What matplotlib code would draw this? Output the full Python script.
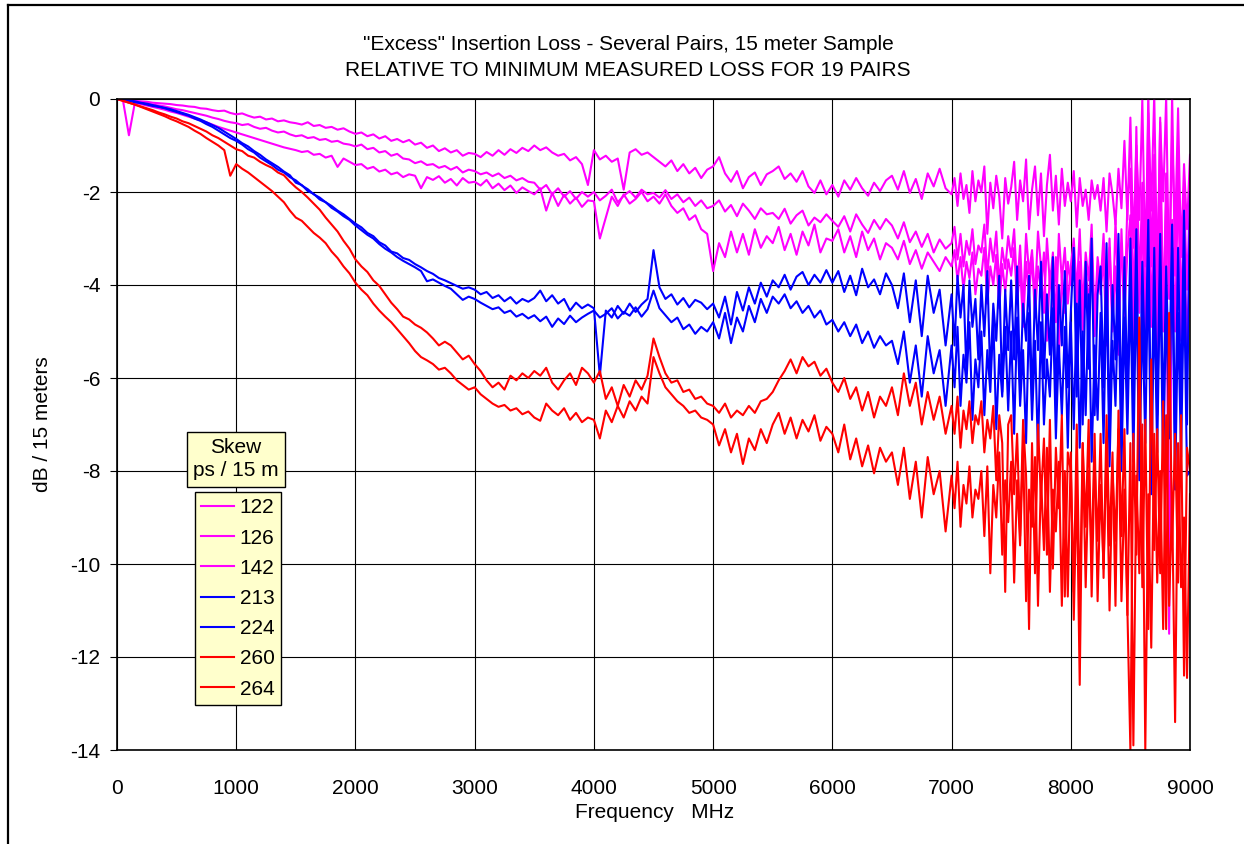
import matplotlib
matplotlib.use('Agg')
import matplotlib.pyplot as plt
import numpy as np
from matplotlib.lines import Line2D

plt.rcParams['font.family'] = ['Liberation Sans', 'DejaVu Sans']
plt.rcParams['axes.unicode_minus'] = False

# frequency points (MHz): 50 MHz steps below 7 GHz, 25 MHz steps above
freq = np.concatenate([np.arange(0, 7000, 50), np.arange(7000, 9001, 25)])

skew_labels = ['122', '126', '142', '213', '224', '260', '264']
skew_colors = ['#FF00FF', '#FF00FF', '#FF00FF', '#0000FF', '#0000FF', '#FF0000', '#FF0000']

# excess loss, dB / 15 m
loss_122 = [
    0.00, -0.01, -0.03, -0.04, -0.05, -0.06, -0.08, -0.09, -0.10, -0.11,
    -0.13, -0.14, -0.16, -0.17, -0.20, -0.21, -0.24, -0.26, -0.25, -0.30,
    -0.33, -0.31, -0.36, -0.40, -0.38, -0.44, -0.42, -0.48, -0.46, -0.50,
    -0.52, -0.55, -0.50, -0.58, -0.56, -0.62, -0.60, -0.66, -0.63, -0.70,
    -0.75, -0.72, -0.80, -0.76, -0.85, -0.80, -0.90, -0.86, -0.93, -0.88,
    -0.98, -0.94, -1.05, -1.00, -1.12, -1.06, -1.15, -1.10, -1.22, -1.16,
    -1.18, -1.25, -1.14, -1.22, -1.10, -1.20, -1.08, -1.16, -1.05, -1.12,
    -1.00, -1.10, -1.04, -1.15, -1.22, -1.18, -1.32, -1.25, -1.40, -1.85,
    -1.10, -1.30, -1.22, -1.35, -1.28, -1.95, -1.15, -1.08, -1.20, -1.15,
    -1.25, -1.35, -1.45, -1.32, -1.55, -1.40, -1.60, -1.48, -1.70, -1.52,
    -1.45, -1.25, -1.60, -1.78, -1.55, -1.92, -1.68, -1.58, -1.85, -1.62,
    -1.55, -1.45, -1.72, -1.60, -1.78, -1.55, -1.88, -2.02, -1.75, -2.05,
    -1.85, -2.10, -1.75, -1.95, -1.70, -1.92, -2.08, -1.80, -1.98, -1.75,
    -1.65, -1.95, -1.55, -2.02, -1.72, -2.15, -1.60, -1.88, -1.50, -1.92,
    # 7000 - 9000 MHz
    -2.05, -1.70, -2.30, -1.60, -2.15, -1.85, -2.45, -1.55, -2.20, -1.75,
    -2.00, -1.45, -2.90, -1.80, -2.35, -1.65, -2.10, -3.00, -1.70, -2.25,
    -1.90, -1.35, -2.60, -1.75, -2.20, -1.30, -2.80, -1.95, -1.45, -2.50,
    -1.60, -2.95, -1.85, -1.20, -2.40, -1.65, -2.70, -1.50, -2.30, -1.80,
    -2.20, -1.55, -2.75, -1.70, -2.30, -1.95, -2.60, -1.75, -2.15, -1.85,
    -2.40, -1.70, -2.85, -1.60, -2.05, -2.70, -1.50, -2.35, -0.90, -2.60,
    -0.40, -3.20, -1.00, -2.60, 0.00, -3.60, -0.30, -2.40, 0.10, -3.90,
    -0.50, -2.20, 0.05, -4.00, -0.80, -2.90, -0.20, -3.40, -1.40, -2.80,
    -1.20]

loss_126 = [
    0.00, -0.02, -0.04, -0.06, -0.08, -0.10, -0.12, -0.14, -0.16, -0.19,
    -0.22, -0.24, -0.27, -0.30, -0.33, -0.36, -0.40, -0.43, -0.47, -0.50,
    -0.52, -0.56, -0.54, -0.60, -0.64, -0.62, -0.68, -0.72, -0.70, -0.76,
    -0.80, -0.78, -0.84, -0.82, -0.88, -0.86, -0.92, -0.90, -0.96, -0.98,
    -1.02, -0.98, -1.08, -1.05, -1.15, -1.12, -1.22, -1.18, -1.28, -1.30,
    -1.38, -1.34, -1.42, -1.40, -1.48, -1.44, -1.52, -1.46, -1.58, -1.52,
    -1.55, -1.62, -1.58, -1.66, -1.60, -1.70, -1.65, -1.75, -1.70, -1.78,
    -1.80, -1.95, -1.85, -2.05, -1.92, -2.10, -1.98, -2.15, -2.00, -2.10,
    -2.00, -2.18, -2.08, -1.95, -2.22, -2.08, -1.98, -2.12, -1.95, -2.05,
    -2.02, -2.12, -1.96, -2.15, -2.05, -2.22, -2.12, -2.30, -2.18, -2.35,
    -2.30, -2.18, -2.42, -2.28, -2.52, -2.25, -2.40, -2.58, -2.35, -2.48,
    -2.45, -2.58, -2.36, -2.68, -2.50, -2.40, -2.72, -2.55, -2.65, -2.48,
    -2.62, -2.75, -2.52, -2.85, -2.48, -2.70, -2.88, -2.60, -2.80, -2.58,
    -2.72, -3.00, -2.65, -3.08, -2.85, -3.18, -2.90, -3.30, -3.02, -3.22,
    # 7000 - 9000 MHz
    -3.10, -2.75, -3.45, -2.90, -3.60, -3.05, -3.35, -2.80, -3.55, -3.15,
    -3.30, -2.70, -3.80, -3.00, -3.50, -2.85, -4.00, -3.20, -3.65, -2.95,
    -3.40, -2.80, -4.10, -3.15, -4.50, -2.90, -3.75, -3.25, -4.30, -2.85,
    -3.60, -4.60, -3.00, -4.00, -3.30, -4.80, -2.90, -3.90, -3.20, -4.40,
    -3.60, -3.00, -4.20, -2.80, -4.50, -3.30, -3.90, -2.70, -4.80, -3.40,
    -4.00, -2.90, -4.60, -3.20, -5.00, -2.60, -4.30, -3.10, -4.70, -2.20,
    -1.50, -4.80, -0.60, -4.20, -1.80, -5.40, 0.20, -3.60, -1.20, -4.40,
    -0.40, -5.00, -1.60, -4.30, 0.10, -3.80, -1.00, -5.20, -2.00, -4.10,
    -2.00]

loss_142 = [
    0.00, -0.03, -0.78, -0.08, -0.11, -0.14, -0.17, -0.20, -0.23, -0.27,
    -0.30, -0.34, -0.38, -0.42, -0.46, -0.50, -0.55, -0.60, -0.64, -0.68,
    -0.72, -0.76, -0.80, -0.84, -0.88, -0.92, -0.96, -1.00, -1.04, -1.07,
    -1.10, -1.14, -1.12, -1.20, -1.18, -1.26, -1.22, -1.46, -1.28, -1.35,
    -1.42, -1.40, -1.50, -1.46, -1.56, -1.52, -1.62, -1.58, -1.68, -1.62,
    -1.65, -1.92, -1.68, -1.74, -1.66, -1.80, -1.72, -1.86, -1.70, -1.80,
    -1.78, -1.86, -1.74, -1.92, -1.82, -1.96, -1.86, -2.02, -1.90, -1.98,
    -2.05, -1.92, -2.40, -2.02, -2.30, -2.06, -2.25, -2.12, -2.32, -2.18,
    -2.20, -3.00, -2.55, -2.10, -2.30, -2.05, -2.25, -2.15, -2.00, -2.20,
    -2.10, -2.25, -2.05, -2.30, -2.45, -2.35, -2.60, -2.50, -2.80, -2.90,
    -3.70, -3.10, -3.40, -2.85, -3.30, -2.90, -3.35, -2.80, -3.20, -2.95,
    -3.10, -2.75, -3.25, -2.90, -3.35, -2.85, -3.15, -2.70, -3.30, -3.00,
    -3.05, -2.80, -3.30, -2.95, -3.40, -2.85, -3.25, -3.00, -3.45, -3.10,
    -3.20, -3.45, -3.05, -3.55, -3.25, -3.65, -3.30, -3.50, -3.70, -3.40,
    # 7000 - 9000 MHz
    -3.60, -3.25, -3.90, -3.40, -4.10, -3.50, -3.85, -3.30, -4.20, -3.65,
    -3.80, -3.20, -4.40, -3.60, -4.00, -3.35, -4.50, -3.55, -4.15, -3.45,
    -3.80, -3.20, -4.40, -3.60, -4.90, -3.50, -4.20, -3.40, -4.70, -3.60,
    -4.10, -3.30, -5.20, -3.70, -4.50, -3.40, -5.60, -3.80, -4.60, -3.50,
    -4.00, -3.30, -4.60, -3.50, -5.00, -3.70, -4.40, -3.20, -5.10, -3.60,
    -4.20, -3.40, -5.30, -3.00, -4.80, -3.60, -5.50, -2.80, -4.60, -3.30,
    -2.50, -5.20, -1.80, -4.60, -2.40, -5.60, -1.20, -4.90, -2.20, -5.80,
    -1.50, -4.70, -2.20, -11.50, -2.60, -5.00, -1.80, -4.40, -2.80, -5.40,
    -3.00]

loss_213 = [
    0.00, -0.02, -0.04, -0.07, -0.09, -0.12, -0.15, -0.17, -0.20, -0.24,
    -0.28, -0.32, -0.36, -0.42, -0.47, -0.54, -0.60, -0.68, -0.76, -0.84,
    -0.90, -0.98, -1.08, -1.15, -1.26, -1.34, -1.42, -1.52, -1.58, -1.68,
    -1.75, -1.86, -1.94, -2.05, -2.12, -2.22, -2.30, -2.40, -2.48, -2.58,
    -2.68, -2.76, -2.88, -2.95, -3.08, -3.15, -3.28, -3.32, -3.42, -3.46,
    -3.55, -3.62, -3.70, -3.76, -3.85, -3.90, -3.96, -4.02, -4.08, -4.05,
    -4.10, -4.20, -4.15, -4.28, -4.22, -4.35, -4.26, -4.40, -4.30, -4.36,
    -4.28, -4.12, -4.35, -4.22, -4.40, -4.30, -4.55, -4.38, -4.50, -4.42,
    -4.50, -5.95, -4.55, -4.70, -4.45, -4.62, -4.40, -4.58, -4.42, -4.30,
    -3.25, -4.05, -4.30, -4.20, -4.42, -4.28, -4.48, -4.32, -4.38, -4.52,
    -4.40, -4.70, -4.25, -4.85, -4.15, -4.55, -4.05, -4.40, -3.95, -4.25,
    -3.90, -4.05, -3.78, -4.10, -3.82, -3.72, -4.00, -3.78, -3.95, -3.68,
    -3.95, -3.70, -4.15, -3.80, -4.22, -3.65, -4.05, -3.88, -4.20, -3.75,
    -4.00, -4.50, -3.75, -4.80, -3.90, -5.10, -3.80, -4.60, -4.10, -5.30,
    # 7000 - 9000 MHz
    -4.20, -5.30, -3.80, -4.70, -4.00, -5.90, -3.90, -4.90, -4.30, -5.60,
    -4.00, -5.10, -3.70, -6.00, -4.40, -5.20, -3.80, -6.30, -4.10, -5.40,
    -3.90, -5.60, -3.60, -6.20, -4.40, -5.20, -3.80, -6.50, -4.10, -5.40,
    -3.50, -6.00, -4.20, -5.50, -3.40, -6.60, -4.00, -5.30, -3.70, -6.20,
    -4.60, -3.20, -6.40, -3.90, -7.00, -3.50, -5.80, -3.00, -6.80, -4.20,
    -3.60, -6.20, -3.10, -7.20, -4.00, -5.60, -2.90, -6.90, -3.40, -6.40,
    -3.00, -6.50, -2.80, -7.20, -3.50, -6.00, -2.60, -7.50, -3.20, -6.80,
    -2.90, -7.00, -3.60, -6.20, -2.70, -7.40, -3.20, -6.60, -2.40, -7.00,
    -2.00]

loss_224 = [
    0.00, -0.02, -0.03, -0.05, -0.08, -0.10, -0.13, -0.16, -0.19, -0.22,
    -0.26, -0.30, -0.34, -0.39, -0.44, -0.50, -0.56, -0.62, -0.70, -0.78,
    -0.86, -0.95, -1.02, -1.12, -1.20, -1.30, -1.38, -1.46, -1.56, -1.64,
    -1.80, -1.85, -1.98, -2.04, -2.16, -2.22, -2.34, -2.42, -2.52, -2.60,
    -2.72, -2.82, -2.92, -3.00, -3.12, -3.22, -3.30, -3.40, -3.48, -3.55,
    -3.62, -3.70, -3.92, -3.88, -3.95, -4.02, -4.08, -4.20, -4.32, -4.25,
    -4.30, -4.38, -4.45, -4.52, -4.48, -4.60, -4.55, -4.68, -4.62, -4.72,
    -4.65, -4.78, -4.68, -4.90, -4.72, -4.84, -4.66, -4.80, -4.70, -4.62,
    -4.55, -4.70, -4.62, -4.50, -4.72, -4.58, -4.66, -4.48, -4.68, -4.52,
    -4.12, -4.50, -4.65, -4.80, -4.70, -4.95, -4.85, -5.05, -4.90, -5.00,
    -4.80, -5.15, -4.60, -5.25, -4.70, -5.00, -4.45, -4.80, -4.30, -4.60,
    -4.25, -4.40, -4.20, -4.50, -4.35, -4.60, -4.45, -4.70, -4.55, -4.85,
    -4.75, -5.00, -4.80, -5.10, -4.85, -5.25, -5.00, -5.35, -5.10, -5.30,
    -5.20, -5.70, -5.00, -6.10, -5.30, -6.40, -5.10, -5.90, -5.40, -6.60,
    # 7000 - 9000 MHz
    -5.30, -6.20, -4.90, -6.60, -5.50, -6.10, -4.80, -6.90, -5.60, -6.20,
    -5.00, -6.80, -5.40, -6.30, -4.70, -7.10, -5.50, -6.40, -4.90, -6.70,
    -5.00, -7.20, -4.70, -6.60, -5.40, -7.40, -4.60, -6.90, -5.20, -7.60,
    -4.80, -7.00, -5.60, -6.40, -4.50, -7.30, -5.30, -6.80, -4.90, -7.50,
    -4.80, -7.10, -4.40, -7.50, -5.00, -6.80, -4.20, -7.80, -5.30, -6.90,
    -4.60, -7.40, -3.90, -7.90, -5.20, -6.60, -4.10, -8.00, -4.70, -7.20,
    -4.00, -7.80, -3.80, -8.20, -4.50, -7.40, -3.40, -8.50, -4.20, -7.60,
    -3.60, -8.00, -4.30, -7.30, -3.20, -8.40, -4.60, -7.70, -3.90, -8.10,
    -8.00]

loss_260 = [
    0.00, -0.04, -0.08, -0.12, -0.16, -0.20, -0.24, -0.29, -0.33, -0.38,
    -0.42, -0.48, -0.52, -0.58, -0.64, -0.70, -0.78, -0.84, -0.92, -1.00,
    -1.08, -1.12, -1.22, -1.26, -1.35, -1.42, -1.48, -1.58, -1.64, -1.78,
    -1.90, -2.00, -2.12, -2.25, -2.38, -2.55, -2.70, -2.85, -3.05, -3.22,
    -3.45, -3.60, -3.72, -3.90, -4.02, -4.20, -4.38, -4.52, -4.68, -4.74,
    -4.85, -4.92, -5.02, -5.15, -5.30, -5.22, -5.30, -5.45, -5.60, -5.52,
    -5.70, -5.85, -6.05, -6.20, -6.10, -6.25, -5.95, -6.05, -5.90, -6.00,
    -5.85, -5.95, -5.78, -6.10, -6.25, -6.05, -5.90, -6.15, -5.78, -5.90,
    -6.10, -5.85, -6.45, -6.20, -6.60, -6.15, -6.40, -6.05, -6.25, -5.95,
    -5.15, -5.55, -5.90, -6.10, -6.05, -6.30, -6.25, -6.45, -6.40, -6.55,
    -6.60, -6.75, -6.55, -6.85, -6.70, -6.80, -6.60, -6.75, -6.50, -6.45,
    -6.30, -6.05, -5.85, -5.60, -5.90, -5.55, -5.75, -5.65, -5.95, -5.80,
    -6.10, -6.30, -6.00, -6.45, -6.20, -6.70, -6.30, -6.85, -6.40, -6.60,
    -6.20, -6.80, -5.90, -6.60, -6.10, -7.00, -6.30, -6.90, -6.40, -7.20,
    # 7000 - 9000 MHz
    -6.60, -7.20, -6.40, -7.50, -6.70, -7.10, -6.50, -7.40, -6.80, -7.00,
    -6.50, -7.60, -6.90, -7.30, -6.60, -8.20, -6.80, -7.40, -10.60, -7.00,
    -6.80, -8.50, -7.20, -9.40, -6.90, -8.10, -11.40, -7.40, -10.20, -7.00,
    -8.60, -7.30, -9.80, -6.90, -10.10, -7.50, -8.80, -6.80, -10.70, -7.60,
    -8.00, -10.60, -7.00, -11.10, -7.40, -9.20, -6.90, -10.70, -7.80, -9.50,
    -7.20, -10.30, -6.80, -9.60, -7.60, -10.90, -6.70, -9.40, -7.10, -11.00,
    -14.00, -7.20, -9.80, -4.70, -10.50, -6.90, -11.40, -5.60, -9.70, -7.10,
    -10.20, -6.50, -11.40, -4.60, -9.60, -7.20, -10.40, -6.80, -12.40, -7.50,
    -8.00]

loss_264 = [
    0.00, -0.04, -0.08, -0.12, -0.17, -0.22, -0.27, -0.32, -0.37, -0.43,
    -0.48, -0.54, -0.60, -0.68, -0.75, -0.84, -0.92, -1.00, -1.10, -1.65,
    -1.40, -1.50, -1.58, -1.68, -1.78, -1.88, -1.98, -2.10, -2.22, -2.40,
    -2.55, -2.62, -2.75, -2.88, -2.98, -3.10, -3.28, -3.42, -3.60, -3.75,
    -3.95, -4.10, -4.22, -4.40, -4.55, -4.68, -4.80, -4.95, -5.10, -5.25,
    -5.42, -5.55, -5.62, -5.70, -5.82, -5.78, -5.90, -6.05, -6.15, -6.25,
    -6.20, -6.35, -6.45, -6.55, -6.62, -6.58, -6.70, -6.65, -6.78, -6.72,
    -6.85, -6.92, -6.55, -6.70, -6.80, -6.65, -6.90, -6.75, -6.95, -6.85,
    -6.90, -7.30, -6.70, -6.95, -6.60, -6.85, -6.50, -6.70, -6.40, -6.55,
    -5.55, -5.90, -6.20, -6.35, -6.50, -6.60, -6.75, -6.70, -6.85, -6.90,
    -7.00, -7.45, -7.10, -7.60, -7.20, -7.85, -7.30, -7.55, -7.10, -7.40,
    -7.00, -6.75, -7.20, -6.85, -7.30, -6.90, -7.15, -6.80, -7.35, -7.05,
    -7.20, -7.60, -7.00, -7.75, -7.30, -7.90, -7.45, -8.05, -7.50, -7.80,
    -7.60, -8.30, -7.50, -8.60, -7.80, -9.00, -7.70, -8.50, -8.00, -9.30,
    # 7000 - 9000 MHz
    -8.10, -8.80, -7.80, -9.20, -8.30, -8.70, -7.90, -9.00, -8.40, -8.60,
    -8.00, -9.40, -7.90, -10.20, -8.30, -9.00, -7.60, -9.80, -8.20, -9.10,
    -7.80, -10.40, -8.20, -9.60, -7.40, -10.80, -8.40, -9.20, -7.70, -10.90,
    -8.10, -9.70, -7.50, -10.60, -8.40, -9.30, -7.80, -10.90, -8.00, -10.70,
    -7.60, -11.20, -8.20, -12.60, -7.40, -10.50, -8.00, -9.80, -7.20, -10.80,
    -8.30, -10.10, -7.50, -11.00, -8.00, -9.50, -7.10, -10.80, -8.40, -11.10,
    -7.40, -13.90, -8.10, -10.20, -7.00, -14.00, -8.50, -11.80, -7.20, -10.40,
    -8.00, -11.40, -6.80, -10.90, -8.60, -13.40, -7.40, -10.50, -9.00, -12.45,
    -8.50]

series = [loss_122, loss_126, loss_142, loss_213, loss_224, loss_260, loss_264]
for s in series:
    assert len(s) == len(freq), len(s)

W, H = 1244, 844
FS = 15
fig = plt.figure(figsize=(W / 100, H / 100), dpi=100)
ax = fig.add_axes([117 / W, 1 - 750 / H, (1190 - 117) / W, (750 - 99) / H])

for vals, lab, col in zip(series, skew_labels, skew_colors):
    ax.plot(freq, vals, color=col, lw=1.5, label=lab)

ax.set_xlim(0, 9000)
ax.set_ylim(-14, 0)
ax.set_xticks(range(0, 9001, 1000))
ax.set_yticks(range(-14, 1, 2))
ax.grid(True, color='black', lw=0.8)
ax.set_axisbelow(True)
for sp in ax.spines.values():
    sp.set_linewidth(1.2)
ax.tick_params(axis='x', labelsize=FS, length=0, pad=21)
ax.tick_params(axis='y', labelsize=FS, length=5, pad=7)

# titles and axis labels
fig.text(628 / W, 1 - 45 / H, '"Excess" Insertion Loss - Several Pairs, 15 meter Sample',
         ha='center', va='center', fontsize=FS)
fig.text(628 / W, 1 - 70 / H, 'RELATIVE TO MINIMUM MEASURED LOSS FOR 19 PAIRS',
         ha='center', va='center', fontsize=FS)
fig.text(655 / W, 1 - 812 / H, 'Frequency   MHz', ha='center', va='center', fontsize=FS)
fig.text(42 / W, 1 - 424 / H, 'dB / 15 meters', ha='center', va='center',
         rotation=90, fontsize=FS)

# legend with a separate title box
fig.text(236 / W, 1 - 459 / H, 'Skew\nps / 15 m', ha='center', va='center',
         fontsize=FS, linespacing=1.3,
         bbox=dict(boxstyle='square,pad=0.3', fc='#FFFFCC', ec='black', lw=1))
leg = ax.legend(loc='upper left', bbox_to_anchor=(195 / W, 1 - 492 / H),
                bbox_transform=fig.transFigure, fontsize=FS, frameon=True,
                fancybox=False, framealpha=1, facecolor='#FFFFCC', edgecolor='black',
                handlelength=1.55, handletextpad=0.3, labelspacing=0.54,
                borderpad=0.3, borderaxespad=0)
leg.get_frame().set_linewidth(1)

# outer frame of the chart (left and top edges)
fig.add_artist(Line2D([8 / W, 8 / W], [0, 1 - 5 / H], transform=fig.transFigure,
                      color='black', lw=1.6))
fig.add_artist(Line2D([8 / W, 1], [1 - 5 / H, 1 - 5 / H], transform=fig.transFigure,
                      color='black', lw=1.6))

fig.savefig('out.png', dpi=100)
